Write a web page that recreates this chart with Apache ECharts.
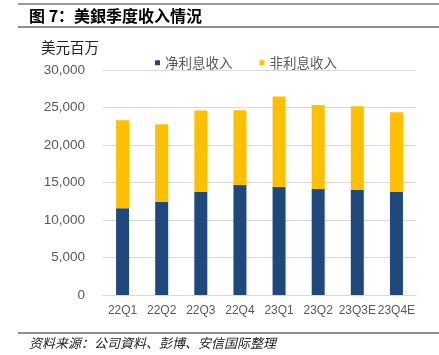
<!DOCTYPE html>
<html>
<head>
<meta charset="utf-8">
<script src="https://cdn.jsdelivr.net/npm/echarts@6/dist/echarts.min.js"></script>
<style>
html,body{margin:0;padding:0;background:#fff;}
#c{width:439px;height:355px;}
</style>
</head>
<body>
<div id="c"></div>
<script>
const categories = ['22Q1','22Q2','22Q3','22Q4','23Q1','23Q2','23Q3E','23Q4E'];
const netInterest = [11570, 12410, 13740, 14670, 14400, 14140, 14000, 13740];
const nonInterest = [11740, 10370, 10860, 9980, 12070, 11210, 11180, 10640];
const seriesNames = ['净利息收入', '非利息收入'];
const yTicks = { min: 0, max: 30000, interval: 5000 };
const titleText = '图 7：美銀季度收入情況';
const unitText = '美元百万';
const sourceText = '资料来源：公司資料、彭博、安信国际整理';

const cjk = '"Noto Sans CJK SC", "Noto Sans", sans-serif';
const chart = echarts.init(document.getElementById('c'), null, {renderer: 'canvas'});
chart.setOption({
  backgroundColor: '#fff',
  animation: false,
  grid: { left: 103, right: 23, top: 70, bottom: 60 },
  legend: {
    left: 150, top: 51,
    itemWidth: 5, itemHeight: 5, itemGap: 27,
    icon: 'rect',
    textStyle: { fontFamily: cjk, fontSize: 13.5, color: '#595959' },
    data: seriesNames
  },
  xAxis: {
    type: 'category',
    data: categories,
    axisLine: { lineStyle: { color: '#d9d9d9' } },
    axisTick: { show: false },
    axisLabel: { color: '#595959', fontSize: 12, fontFamily: 'Liberation Sans, Arial, sans-serif', margin: 10, interval: 0 }
  },
  yAxis: {
    type: 'value',
    min: yTicks.min, max: yTicks.max, interval: yTicks.interval,
    axisLine: { show: false },
    axisTick: { show: false },
    splitLine: { lineStyle: { color: '#d9d9d9' } },
    axisLabel: {
      color: '#595959', fontSize: 13.5, fontFamily: 'Liberation Sans, Arial, sans-serif', margin: 18,
      formatter: v => v.toLocaleString('en-US')
    }
  },
  series: [
    { name: seriesNames[0], type: 'bar', stack: 'total', barWidth: 13, data: netInterest, itemStyle: { color: '#1F497D' } },
    { name: seriesNames[1], type: 'bar', stack: 'total', barWidth: 13, data: nonInterest, itemStyle: { color: '#FFC000' } }
  ],
  graphic: [
    { type: 'line', shape: { x1: 18, y1: 4, x2: 439, y2: 4 }, style: { stroke: '#9a9a9a', lineWidth: 2 } },
    { type: 'text', left: 29, top: 8, style: { text: titleText, font: 'bold 16px ' + cjk, fill: '#000' } },
    { type: 'line', shape: { x1: 18, y1: 27, x2: 439, y2: 27 }, style: { stroke: '#222', lineWidth: 1 } },
    { type: 'text', left: 41, top: 40, style: { text: unitText, font: '14.5px ' + cjk, fill: '#222' } },
    { type: 'line', shape: { x1: 18, y1: 333, x2: 439, y2: 333 }, style: { stroke: '#222', lineWidth: 1 } },
    { type: 'text', left: 29, top: 337, style: { text: sourceText, font: 'italic 13px ' + cjk, fill: '#222' } }
  ]
});
</script>
</body>
</html>
